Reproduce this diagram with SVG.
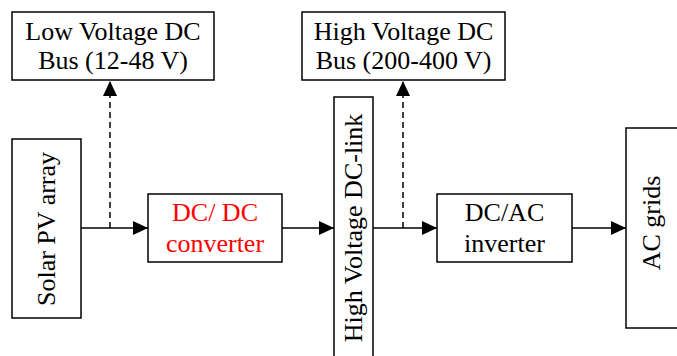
<svg xmlns="http://www.w3.org/2000/svg" width="677" height="356" viewBox="0 0 677 356">
<style>
.box{fill:#fff;stroke:#000;stroke-width:1.5}
.t{font-family:"Liberation Serif","Times New Roman",serif;font-size:26px;fill:#000;text-anchor:middle}
.red{fill:#f00}
.ln{stroke:#000;stroke-width:1.5;fill:none}
.dash{stroke-dasharray:6,4}
</style>
<defs>
<marker id="ah" markerUnits="userSpaceOnUse" markerWidth="16" markerHeight="14" refX="15" refY="7" orient="auto">
<path d="M0,0 L15,7 L0,14 Z" fill="#000"/>
</marker>
</defs>
<g id="connectors">
<line class="ln" x1="81" y1="228" x2="148" y2="228" marker-end="url(#ah)"/>
<line class="ln dash" x1="110" y1="228" x2="110" y2="81" marker-end="url(#ah)"/>
<line class="ln" x1="282" y1="228" x2="334" y2="228" marker-end="url(#ah)"/>
<line class="ln" x1="373" y1="228" x2="437" y2="228" marker-end="url(#ah)"/>
<line class="ln dash" x1="403" y1="228" x2="403" y2="81" marker-end="url(#ah)"/>
<line class="ln" x1="572" y1="228" x2="626" y2="228" marker-end="url(#ah)"/>
</g>
<g id="lv-bus">
<rect class="box" x="12" y="12" width="202" height="68"/>
<text class="t" x="113" y="40">Low Voltage DC</text>
<text class="t" x="113" y="69">Bus (12-48 V)</text>
</g>
<g id="hv-bus">
<rect class="box" x="302" y="12" width="203" height="68"/>
<text class="t" x="403.5" y="40">High Voltage DC</text>
<text class="t" x="403.5" y="69">Bus (200-400 V)</text>
</g>
<g id="solar-pv">
<rect class="box" x="12" y="139" width="69" height="179"/>
<text class="t" transform="translate(55,229) rotate(-90)">Solar PV array</text>
</g>
<g id="dcdc">
<rect class="box" x="148" y="194" width="134" height="68"/>
<text class="t red" x="215" y="221">DC/ DC</text>
<text class="t red" x="215" y="252">converter</text>
</g>
<g id="hv-dclink">
<rect class="box" x="334" y="97" width="39" height="270"/>
<text class="t" transform="translate(362,228) rotate(-90)">High Voltage DC-link</text>
</g>
<g id="dcac">
<rect class="box" x="437" y="194" width="135" height="68"/>
<text class="t" x="504.5" y="221">DC/AC</text>
<text class="t" x="504.5" y="252">inverter</text>
</g>
<g id="ac-grids">
<rect class="box" x="626" y="128" width="60" height="200"/>
<text class="t" transform="translate(660,223) rotate(-90)">AC grids</text>
</g>
</svg>
